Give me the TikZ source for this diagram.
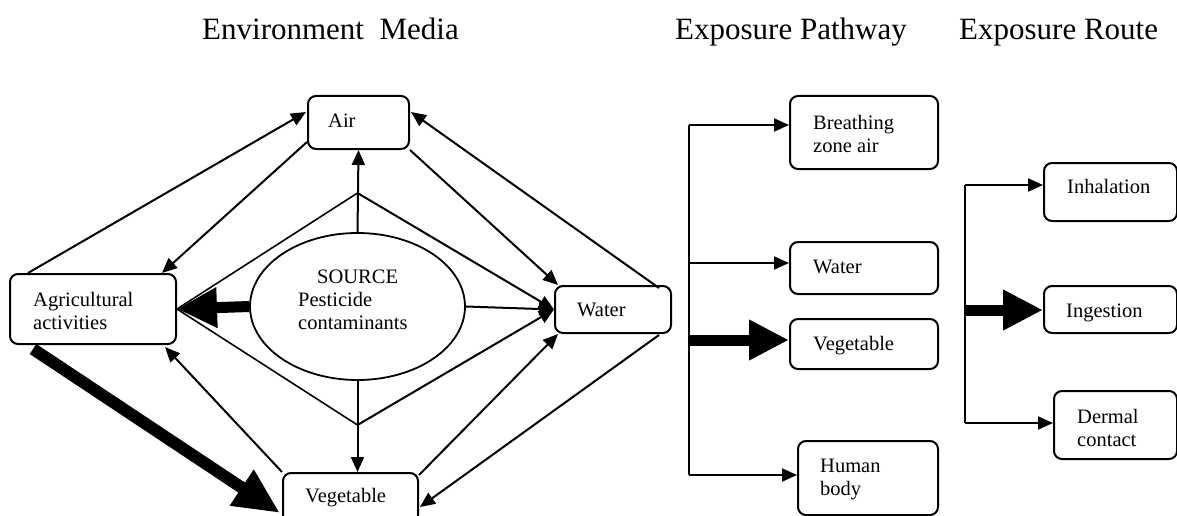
\documentclass[tikz,border=0pt]{standalone}
\usepackage{fontspec}
\setmainfont{Liberation Serif}
\usetikzlibrary{arrows.meta,calc,shapes.geometric}
\begin{document}
\begin{tikzpicture}[x=1pt,y=-1pt,
 box/.style={draw,rounded corners=8pt,line width=2pt,inner sep=0pt,anchor=north west},
 lbl/.style={anchor=base west,inner sep=0pt,font=\fontsize{20.5}{23}\selectfont},
 ttl/.style={anchor=base west,inner sep=0pt,font=\fontsize{31}{36}\selectfont},
 arr/.style={line width=2pt,-{Triangle[length=15pt,width=13pt]}},
 thinline/.style={line width=1.6pt},
 trunk/.style={line width=2pt},
 big/.style={line width=11pt,-{Triangle[length=40pt,width=38pt]}},
 bigger/.style={line width=12pt,-{Triangle[length=46pt,width=40pt]}}]
\useasboundingbox (0,0) rectangle (1177,516);

% titles
\node[ttl] (t1) at (202,40) {Environment\ \ Media};
\node[ttl] (t2) at (675,40) {Exposure Pathway};
\node[ttl] (t3) at (959,40) {Exposure Route};

% environment media boxes
\node[box,minimum width=101pt,minimum height=53pt] (air) at (307,95) {};
\node[box,minimum width=166pt,minimum height=70pt] (agri) at (9,273) {};
\node[box,minimum width=116pt,minimum height=47pt] (water) at (554,285) {};
\node[box,minimum width=135pt,minimum height=50pt] (veg) at (282,472) {};
\node[draw,ellipse,line width=1.8pt,minimum width=215pt,minimum height=147pt,inner sep=0pt] (src) at (357.5,306.5) {};

\node[lbl] (lair) at (328,128) {Air};
\node[lbl] (lagri) at (33,306) {\begin{tabular}[t]{@{}l@{}}Agricultural\\activities\end{tabular}};
\node[lbl] (lsrc1) at (317,283) {SOURCE};
\node[lbl] (lsrc2) at (298,306) {\begin{tabular}[t]{@{}l@{}}Pesticide\\contaminants\end{tabular}};
\node[lbl] (lwater) at (577,316) {Water};
\node[lbl] (lveg) at (305,502) {Vegetable};

% connectors between media
\draw[arr] ($(agri.north west)+(19,0)$) -- ($(air.north west)+(-1,17)$);
\draw[arr] ($(air.south west)+(0,-8)$) -- ($(agri.north east)+(-15,0)$);
\draw[arr] (air.south east) -- ($(water.north west)+(4,0)$);
\draw[arr] ($(water.north east)+(-13,3)$) -- ($(air.north east)+(1,17)$);
\draw[arr] ($(veg.north east)+(0,3)$) -- ($(water.south west)+(4,0)$);
\draw[arr] ($(water.south east)+(-13,1)$) -- ($(veg.north east)+(1,35)$);
\draw[arr] (veg.north west) -- ($(agri.south east)+(-12,2)$);
\draw[bigger] ($(agri.south west)+(24,4)$) -- ($(veg.north west)+(-2,41)$);

% diamond around source
\coordinate (T) at (357.5,193);
\coordinate (B) at (357.5,425);
\draw[thinline] (agri.east) -- (T);
\draw[thinline] (agri.east) -- (B);
\draw[arr] (T) -- (water.west);
\draw[arr] (B) -- (water.west);
\draw[arr] (src.east) -- (water.west);
\draw[big] (src.west) -- (agri.east);
\draw[arr] (src.north) -- (air.south);
\draw[arr] (src.south) -- (src.south |- veg.north);

% exposure pathway
\node[box,minimum width=148pt,minimum height=73pt] (breath) at (789,95) {};
\node[box,minimum width=148pt,minimum height=52pt] (pwater) at (789,241) {};
\node[box,minimum width=148pt,minimum height=50pt] (pveg) at (789,318) {};
\node[box,minimum width=140pt,minimum height=74pt] (human) at (797,440) {};
\node[lbl] (lbreath) at (813,129) {\begin{tabular}[t]{@{}l@{}}Breathing\\zone air\end{tabular}};
\node[lbl] (lpwater) at (813,273) {Water};
\node[lbl] (lpveg) at (813,350) {Vegetable};
\node[lbl] (lhuman) at (820,472) {\begin{tabular}[t]{@{}l@{}}Human\\body\end{tabular}};

\coordinate (pa) at (689,125);
\coordinate (pb) at (689,263);
\coordinate (pc) at (689,340);
\coordinate (pd) at (689,475);
\draw[trunk] (pa) -- (pd);
\draw[arr] (pa) -- (pa -| breath.west);
\draw[arr] (pb) -- (pb -| pwater.west);
\draw[big] (pc) -- (pc -| pveg.west);
\draw[arr] (pd) -- (pd -| human.west);

% exposure route
\node[box,minimum width=133pt,minimum height=58pt] (inhal) at (1043,162) {};
\node[box,minimum width=133pt,minimum height=47pt] (inges) at (1043,285) {};
\node[box,minimum width=123pt,minimum height=68pt] (dermal) at (1053,390) {};
\node[lbl] (linhal) at (1067,193) {Inhalation};
\node[lbl] (linges) at (1066,317) {Ingestion};
\node[lbl] (ldermal) at (1077,423) {\begin{tabular}[t]{@{}l@{}}Dermal\\contact\end{tabular}};

\coordinate (ra) at (965,185);
\coordinate (rb) at (965,310);
\coordinate (rc) at (965,423);
\draw[trunk] (ra) -- (rc);
\draw[arr] (ra) -- (ra -| inhal.west);
\draw[big] (rb) -- (rb -| inges.west);
\draw[arr] (rc) -- (rc -| dermal.west);
\end{tikzpicture}
\end{document}
